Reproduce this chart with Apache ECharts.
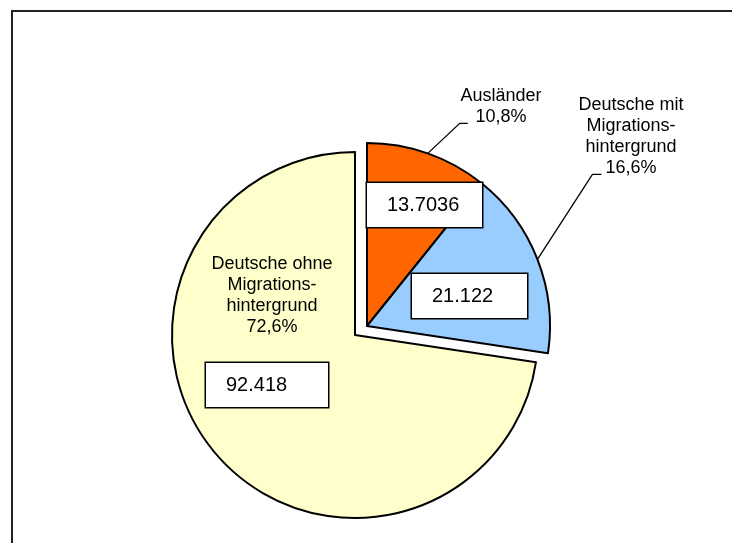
<!DOCTYPE html>
<html>
<head>
<meta charset="utf-8">
<script src="https://cdn.jsdelivr.net/npm/echarts@6/dist/echarts.min.js"></script>
<style>
  html, body { margin: 0; padding: 0; background: #fff; }
  #chart { width: 732px; height: 543px; }
</style>
</head>
<body>
<div id="chart"></div>
<script>
// data
var categories = ['Ausländer', 'Deutsche mit Migrationshintergrund', 'Deutsche ohne Migrationshintergrund']
var nameLabels = ['Ausländer', 'Deutsche mit\nMigrations-\nhintergrund', 'Deutsche ohne\nMigrations-\nhintergrund']
var percentLabels = ['10,8%', '16,6%', '72,6%']
var values = [13.7036, 21.122, 92.418]
var valueLabels = ['13.7036', '21.122', '92.418']
var colors = ['#FF6600', '#99CCFF', '#FFFFCC']

// which slices belong to the pulled-out group
var group = [0, 0, 1]
var centers = [[367, 326], [355, 335]]

// label layout (left x / middle y of value boxes, centre of name blocks)
var boxLayout = [
  { x: 367, y: 205, w: 95 },
  { x: 412, y: 296, w: 95 },
  { x: 206, y: 385, w: 102 }
]
var nameLayout = [
  { x: 501, y: 107, line: [32, -30, 8] },
  { x: 631, y: 137, line: [55, -85, 9] },
  { x: 272, y: 296, line: null }
]

var font = '"Liberation Sans", Arial, sans-serif'
var clear = 'rgba(0,0,0,0)'

var chart = echarts.init(document.getElementById('chart'))

function sliceSeries(g) {
  return {
    type: 'pie',
    center: centers[g],
    radius: 183,
    startAngle: 90,
    clockwise: true,
    avoidLabelOverlap: false,
    emphasis: { disabled: true },
    label: {
      show: true,
      position: 'inside',
      formatter: function(p) { return valueLabels[p.dataIndex] },
      fontFamily: font,
      fontSize: 20,
      color: '#000',
      backgroundColor: '#fff',
      borderColor: '#000',
      borderWidth: 1.5,
      padding: [11, 0, 11, 20],
      lineHeight: 22,
      align: 'left'
    },
    labelLine: { show: false },
    labelLayout: function(p) {
      var b = boxLayout[p.dataIndex]
      return { x: b.x, y: b.y, align: 'left', verticalAlign: 'middle' }
    },
    data: values.map(function(v, i) {
      var on = group[i] === g
      return {
        name: categories[i],
        value: v,
        itemStyle: on
          ? { color: colors[i], borderColor: '#000', borderWidth: 2 }
          : { color: clear, borderWidth: 0 },
        label: { show: on, width: boxLayout[i].w }
      }
    })
  }
}

chart.setOption({
  animation: false,
  backgroundColor: '#fff',
  graphic: [{
    type: 'rect',
    shape: { x: 12, y: 11, width: 740, height: 560 },
    style: { fill: 'none', stroke: '#222', lineWidth: 2 },
    silent: true
  }],
  series: [sliceSeries(0), sliceSeries(1), {
    type: 'pie',
    silent: true,
    center: centers[0],
    radius: 183,
    startAngle: 90,
    clockwise: true,
    avoidLabelOverlap: false,
    emphasis: { disabled: true },
    itemStyle: { color: clear, borderWidth: 0 },
    label: {
      show: true,
      formatter: function(p) { return nameLabels[p.dataIndex] + '\n' + percentLabels[p.dataIndex] },
      fontFamily: font,
      fontSize: 18,
      lineHeight: 21,
      color: '#000',
      align: 'center'
    },
    labelLine: { show: true, lineStyle: { color: '#000', width: 1.3 } },
    labelLayout: function(p) {
      var n = nameLayout[p.dataIndex]
      var out = { x: n.x, y: n.y, align: 'center', verticalAlign: 'middle' }
      if (n.line && p.labelLinePoints) {
        var a = p.labelLinePoints[0]
        var b = [a[0] + n.line[0], a[1] + n.line[1]]
        var c = [b[0] + n.line[2], b[1]]
        out.labelLinePoints = [a, b, c]
      }
      return out
    },
    data: values.map(function(v, i) {
      return {
        name: categories[i],
        value: v,
        label: { position: nameLayout[i].line ? 'outside' : 'inside' },
        labelLine: { show: !!nameLayout[i].line }
      }
    })
  }]
})
</script>
</body>
</html>
